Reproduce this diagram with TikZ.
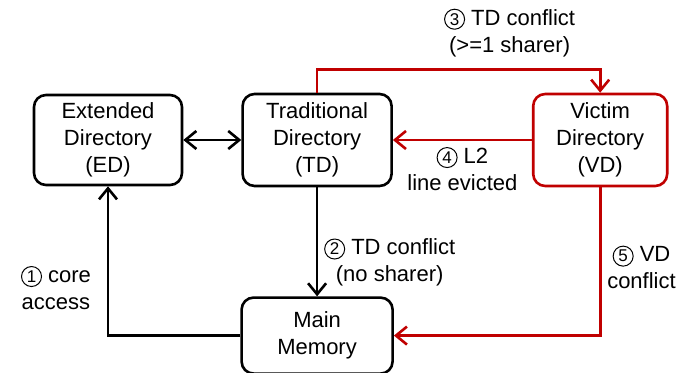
\documentclass[tikz,border=0pt]{standalone}
\usepackage{fontspec}
\setmainfont{Liberation Sans}
\usepackage{tikz}
\usetikzlibrary{arrows.meta,positioning}
\definecolor{cR}{HTML}{C00000}
% step number in a thin circle
\newcommand{\stepno}[1]{\tikz[baseline=(s.base)]\node[circle,draw=black,line width=.5pt,inner sep=0pt,
  minimum size=10pt,font=\fontsize{8.5}{8.5}\selectfont] (s) {#1};}
\tikzset{
  dirbox/.style={draw,rounded corners=6pt,line width=1.3pt,align=center,inner sep=2pt},
  vicbox/.style={dirbox,draw=cR},
  flow/.style={-{Straight Barb[length=5.5pt,width=9pt]},line width=1.3pt},
  twoway/.style={{Straight Barb[length=5.5pt,width=9pt]}-{Straight Barb[length=5.5pt,width=9pt]},line width=1.3pt},
  redflow/.style={flow,cR},
  note/.style={align=center,text=black},
}

\begin{document}
\begin{tikzpicture}[x=0.5pt,y=-0.5pt,every node/.style={font=\fontsize{11}{13.5}\selectfont}]
  \useasboundingbox (0,0) rectangle (692,373);
  \node[dirbox,minimum width=74pt,minimum height=45pt] (ed) at (108,140) {Extended\\Directory\\(ED)};
  \node[dirbox,minimum width=74.5pt,minimum height=46pt,right=29pt of ed] (td) {Traditional\\Directory\\(TD)};
  \node[vicbox,minimum width=67pt,minimum height=46pt,right=69.5pt of td] (vd) {Victim\\Directory\\(VD)};
  \node[dirbox,minimum width=75.5pt,minimum height=38pt,below=54.5pt of td] (mm) {Main\\Memory};

  \draw[twoway] (ed) -- (td);
  \draw[flow] (td) -- node[note,right,pos=.69] {\stepno{2} TD conflict\\(no sharer)} (mm);
  \draw[flow] (mm.west) -| node[note,left=5pt,pos=.66] {\stepno{1} core\\access} (ed.south);
  \draw[redflow] (td.north) -- ++(0,-23) -| node[note,above=3pt,pos=.34] {\stepno{3} TD conflict\\(>=1 sharer)} (vd.north);
  \draw[redflow] (vd) -- node[note,below] {\stepno{4} L2\\line evicted} (td);
  \draw[redflow] (vd.south) |- node[note,right=0pt,pos=.27] {\stepno{5} VD\\conflict} (mm.east);
\end{tikzpicture}
\end{document}
